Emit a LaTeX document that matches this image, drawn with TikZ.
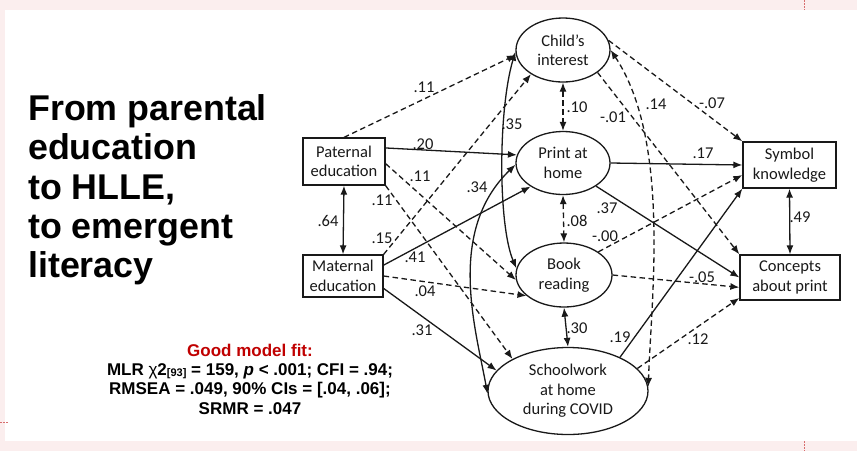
\documentclass[tikz,border=0pt]{standalone}
\usepackage{fontspec}
\setmainfont{Carlito}
\newfontfamily\arialf{Liberation Sans}
\usetikzlibrary{arrows.meta,shapes.geometric}
\definecolor{fitred}{RGB}{192,0,0}
\definecolor{bandpink}{RGB}{251,238,238}
\definecolor{markred}{RGB}{215,110,110}
\definecolor{ink}{RGB}{25,25,25}
\begin{document}
\begin{tikzpicture}[x=1pt,y=-1pt,
  every node/.style={font=\fontsize{16.5}{19.5}\selectfont, text=ink},
  obsbox/.style={draw=ink, line width=1.3pt, rectangle, inner sep=0pt, align=center},
  latent/.style={draw=ink, line width=1.3pt, ellipse, inner sep=0pt, align=center},
  lab/.style={font=\fontsize{16.5}{16.5}\selectfont, inner sep=0pt},
  conn/.style={draw=ink, line width=1.3pt, -{Latex[length=9pt,width=7pt]}},
  dconn/.style={conn, dash pattern=on 5.5pt off 3.5pt},
  bconn/.style={draw=ink, line width=1.3pt, {Latex[length=9pt,width=7pt]}-{Latex[length=9pt,width=7pt]}},
  bdconn/.style={bconn, dash pattern=on 5.5pt off 3.5pt},
  edgemark/.style={markred, line width=0.8pt, dash pattern=on 1.5pt off 1.5pt}]
\useasboundingbox (0,0) rectangle (857,451);
\fill[white] (0,0) rectangle (857,451);
\fill[bandpink] (0,0) rectangle (857,10);
\fill[bandpink] (0,441) rectangle (857,451);
\fill[bandpink] (0,0) rectangle (5,451);
\draw[edgemark] (804,0) -- (804,10);
\draw[edgemark] (804,441) -- (804,451);
\draw[edgemark] (0,422) -- (8,422);

% title and fit
\node[font=\arialf\bfseries\fontsize{35.8}{39.25}\selectfont, text=black, anchor=north west, align=left, inner sep=0pt] (title) at (28,94.4)
  {From parental\\education\\to HLLE,\\to emergent\\literacy};
\node[font=\arialf\bfseries\fontsize{17}{19.3}\selectfont, text=black, anchor=north, align=center, inner sep=0pt] (fit) at (250,343.6)
  {\textcolor{fitred}{Good model fit:}\\MLR {\mdseries χ}2\raisebox{-1.5pt}{\fontsize{11}{11}\selectfont[93]} = 159, \textit{p} < .001; CFI = .94;\\RMSEA = .049, 90\% CIs = [.04, .06];\\SRMR = .047};

% observed
\node[obsbox, minimum width=82pt, minimum height=47pt] (pat) at (344,161.5) {Paternal\\education};
\node[obsbox, minimum width=80pt, minimum height=42pt] (mat) at (343,276) {Maternal\\education};
\node[obsbox, minimum width=93pt, minimum height=46pt] (sk) at (789.5,165) {Symbol\\knowledge};
\node[obsbox, minimum width=100pt, minimum height=45pt] (cp) at (790,277.5) {Concepts\\about print};
% latent
\node[latent, minimum width=94pt, minimum height=64pt] (ci) at (563,50) {Child’s\\interest};
\node[latent, minimum width=94pt, minimum height=63pt] (ph) at (563,163) {Print at\\home};
\node[latent, minimum width=96pt, minimum height=64pt] (br) at (564,275) {Book\\reading};
\node[latent, minimum width=160pt, minimum height=87pt] (sw) at (568,391) {Schoolwork\\at home\\during COVID};

% parental paths
\draw[dconn] (pat.north) -- (ci.186);
\draw[conn] (pat.18) -- (ph.170);
\draw[dconn] (pat.-3) -- (br.186);
\draw[dconn] (pat.south east) -- (sw.150);
\draw[dconn] (mat.north east) -- (ci.217);
\draw[conn] (mat.15) -- (ph.216);
\draw[dconn] (mat.east) -- (br.209);
\draw[conn] (mat.-17) -- (sw.164);
\draw[bconn] (pat.south) -- (mat.north);

% covariances among HLLE
\draw[bdconn] (ci.south) -- (ph.north);
\draw[bdconn] (ph.south) -- (br.north);
\draw[bconn] (br.south) -- (sw.north);
\draw[bconn] (ci.182) .. controls (498,110) and (498,225) .. (br.172);
\draw[bconn] (ph.182) .. controls (446,232) and (476,330) .. (sw.182);
\draw[bdconn] (ci.east) .. controls (671,141) and (651,300) .. (sw.3);

% outcomes
\draw[dconn] (ci.12) -- (sk.north west);
\draw[dconn] (ci.-33) -- (cp.north west);
\draw[conn] (ph.east) -- (sk.west);
\draw[conn] (ph.-35) -- (cp.west);
\draw[dconn] (br.34) -- (sk.192);
\draw[dconn] (br.east) -- (cp.191);
\draw[conn] (sw.33) -- (sk.south west);
\draw[dconn] (sw.18) -- (cp.202);
\draw[bconn] (sk.south) -- (cp.north);

% labels
\node[lab] (l1) at (424,87) {.11};
\node[lab] (l2) at (423,144) {.20};
\node[lab] (l3) at (420,176) {.11};
\node[lab] (l4) at (382,200) {.11};
\node[lab] (l5) at (328,221) {.64};
\node[lab] (l6) at (382,238) {.15};
\node[lab] (l7) at (415,257) {.41};
\node[lab] (l8) at (425,291) {.04};
\node[lab] (l9) at (422,330) {.31};
\node[lab] (l10) at (512,124) {.35};
\node[lab] (l11) at (477,187) {.34};
\node[lab] (l12) at (577,107) {.10};
\node[lab] (l13) at (577,221) {.08};
\node[lab] (l14) at (577,328) {.30};
\node[lab] (l15) at (613,117) {-.01};
\node[lab] (l16) at (656,104) {.14};
\node[lab] (l17) at (712,103) {-.07};
\node[lab] (l18) at (703,153) {.17};
\node[lab] (l19) at (607,208) {.37};
\node[lab] (l20) at (605,236) {-.00};
\node[lab] (l21) at (702,277) {-.05};
\node[lab] (l22) at (620,337) {.19};
\node[lab] (l23) at (698,339) {.12};
\node[lab] (l24) at (800,217) {.49};
\end{tikzpicture}
\end{document}
